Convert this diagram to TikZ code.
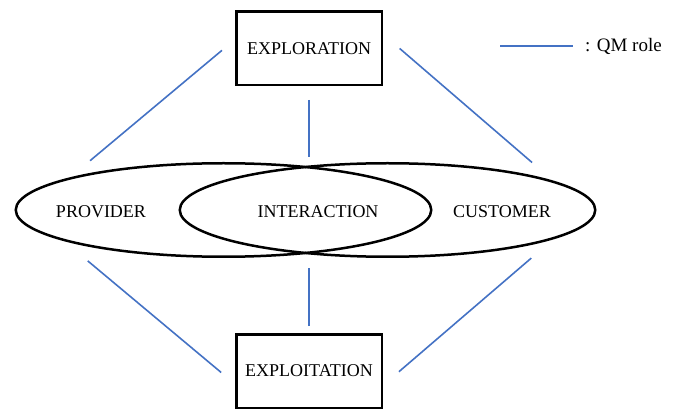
\documentclass[tikz,border=0pt]{standalone}
\usepackage{fontspec}
\setmainfont{Liberation Serif}
\usetikzlibrary{positioning,shapes.geometric}
\definecolor{qmblue}{RGB}{68,114,196}
\tikzset{
    phase/.style = {rectangle, minimum width=145.5pt, minimum height=73.5pt, text centered, draw=black, line width=2.5pt, font=\fontsize{18}{21}\selectfont},
    party/.style = {ellipse, minimum width=415.5pt, minimum height=93.5pt, inner sep=0pt, draw=black, line width=2.5pt},
    partyname/.style = {text centered, font=\fontsize{18}{21}\selectfont},
    qm/.style = {draw=qmblue, line width=1.6pt}
}

\begin{document}
\begin{tikzpicture}[x=1pt, y=1pt]
\useasboundingbox (0,0) rectangle (676,412);
\node (explore) [phase] at (309,363.5) {EXPLORATION};
\node (exploit) [phase, below=246.5pt of explore] {EXPLOITATION};
\node (provider) [party] at (223.5,202) {};
\node (customer) [party] at (387.5,202) {};
\node (providertext) [partyname] at (101,200.5) {PROVIDER};
\node (interaction) [partyname] at (318,200.5) {INTERACTION};
\node (customertext) [partyname] at (502,200.5) {CUSTOMER};
\node (legend) [anchor=base west, inner sep=0pt, font=\fontsize{19}{22}\selectfont] at (585,360) {: QM role};

\coordinate (meettop) at (explore.south |- provider.north);
\coordinate (meetbot) at (exploit.north |- provider.south);
\coordinate (legendstart) at (500,366);

% QM roles
\draw [qm, shorten <=17pt, shorten >=26pt] (explore.173) -- (provider.168);
\draw [qm, shorten <=13.5pt, shorten >=5pt] (explore.south) -- (meettop);
\draw [qm, shorten <=22pt, shorten >=28pt] (explore.11) -- (customer.10);
\draw [qm, shorten <=18pt, shorten >=31pt] (exploit.190) -- (provider.191);
\draw [qm, shorten <=7pt, shorten >=10pt] (exploit.north) -- (meetbot);
\draw [qm, shorten <=21pt, shorten >=29pt] (exploit.349) -- (customer.350);
\draw [qm, shorten >=12pt] (legendstart) -- (legendstart -| legend.west);
\end{tikzpicture}
\end{document}
